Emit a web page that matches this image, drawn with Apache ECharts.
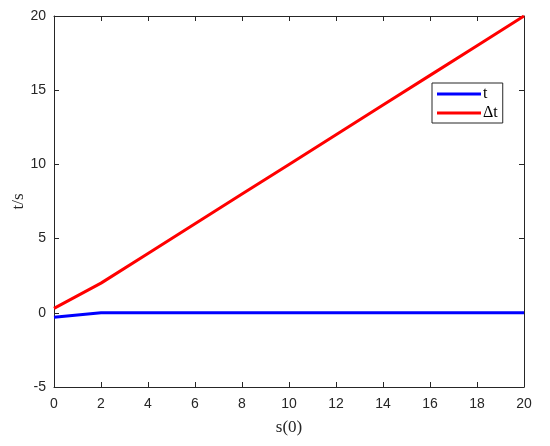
<!DOCTYPE html>
<html>
<head>
<meta charset="utf-8">
<script src="https://cdn.jsdelivr.net/npm/echarts@6/dist/echarts.min.js"></script>
<style>html,body{margin:0;padding:0;background:#fff;}#c{width:550px;height:446px;}</style>
</head>
<body>
<div id="c"></div>
<script>
var xValues = [0, 2, 4, 6, 8, 10, 12, 14, 16, 18, 20];
var tValues = [-0.3, 0, 0, 0, 0, 0, 0, 0, 0, 0, 0];
var dtValues = [0.3, 2, 4, 6, 8, 10, 12, 14, 16, 18, 20];
var seriesNames = ['t', '\u0394t'];
var xTicks = {min: 0, max: 20, interval: 2};
var yTicks = {min: -5, max: 20, interval: 5};

function pairs(xs, ys) { return xs.map(function (x, i) { return [x, ys[i]]; }); }

var axisColor = '#262626';
var labelStyle = {color: axisColor, fontFamily: 'Liberation Sans, Arial, sans-serif', fontSize: 14};
var serif = 'Liberation Serif, Times New Roman, serif';
function lineCfg() { return {show: true, onZero: false, lineStyle: {color: axisColor, width: 1}}; }
function tickCfg() { return {show: true, inside: true, length: 5, lineStyle: {color: axisColor}}; }
var chart = echarts.init(document.getElementById('c'));
chart.setOption({
  animation: false,
  backgroundColor: '#fff',
  grid: {left: 54, top: 16, right: 26, bottom: 59, containLabel: false, outerBoundsMode: 'none'},
  legend: {
    orient: 'vertical', left: 432, top: 83,
    data: seriesNames,
    icon: 'rect', itemWidth: 44, itemHeight: 3, itemGap: 3,
    borderColor: axisColor, borderWidth: 1, borderRadius: 0,
    padding: [3, 5, 2, 5],
    backgroundColor: '#fff',
    textStyle: {fontFamily: serif, fontSize: 16, color: '#000', padding: [0, 0, 0, -3]}
  },
  xAxis: [{
    type: 'value', min: xTicks.min, max: xTicks.max, interval: xTicks.interval,
    name: 's(0)', nameLocation: 'middle', nameGap: 32, nameMoveOverlap: false,
    nameTextStyle: {fontFamily: serif, fontSize: 17, color: axisColor},
    axisLine: lineCfg(), axisTick: tickCfg(),
    axisLabel: Object.assign({margin: 10}, labelStyle),
    splitLine: {show: false}
  }, {
    type: 'value', position: 'top', min: xTicks.min, max: xTicks.max, interval: xTicks.interval,
    axisLine: lineCfg(), axisTick: tickCfg(),
    axisLabel: {show: false}, splitLine: {show: false}
  }],
  yAxis: [{
    type: 'value', min: yTicks.min, max: yTicks.max, interval: yTicks.interval,
    name: 't/s', nameLocation: 'middle', nameGap: 27, nameMoveOverlap: false,
    nameTextStyle: {fontFamily: serif, fontSize: 17, color: axisColor},
    axisLine: lineCfg(), axisTick: tickCfg(),
    axisLabel: Object.assign({margin: 8}, labelStyle),
    splitLine: {show: false}
  }, {
    type: 'value', position: 'right', min: yTicks.min, max: yTicks.max, interval: yTicks.interval,
    axisLine: lineCfg(), axisTick: tickCfg(),
    axisLabel: {show: false}, splitLine: {show: false}
  }],
  series: [{
    name: seriesNames[0], type: 'line', data: pairs(xValues, tValues),
    showSymbol: false, symbol: 'none', color: '#0000ff',
    lineStyle: {color: '#0000ff', width: 3}
  }, {
    name: seriesNames[1], type: 'line', data: pairs(xValues, dtValues),
    showSymbol: false, symbol: 'none', color: '#ff0000',
    lineStyle: {color: '#ff0000', width: 3}
  }]
});
</script>
</body>
</html>
